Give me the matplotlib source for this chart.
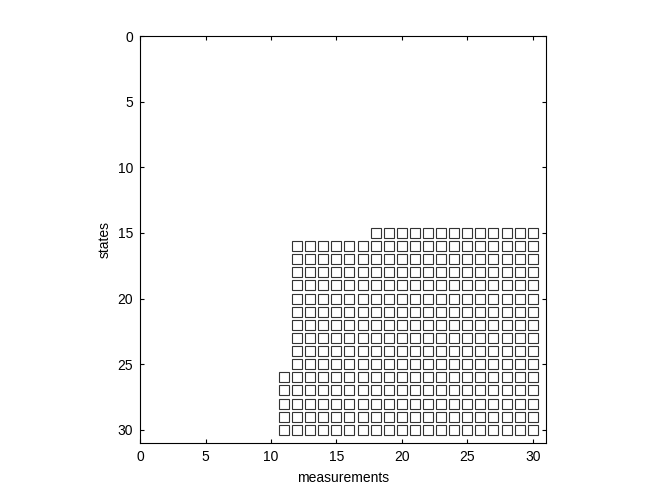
import numpy as np
import matplotlib
matplotlib.use('Agg')
import matplotlib.pyplot as plt

plt.rcParams['font.family'] = ['Liberation Sans', 'DejaVu Sans']

# each state row is filled from its first measurement up to the last one
states = list(range(15, 31))
first_meas = [18, 12, 12, 12, 12, 12, 12, 12, 12, 12, 12, 11, 11, 11, 11, 11]
last_meas = 30

xs = []
ys = []
for s, m0 in zip(states, first_meas):
    for m in range(m0, last_meas + 1):
        xs.append(m)
        ys.append(s)

fig = plt.figure(figsize=(6.64, 5), dpi=100)
ax = fig.add_axes([0.211, 0.114, 0.611, 0.814])
ax.plot(xs, ys, 's', markersize=7.3, markerfacecolor='none',
        markeredgecolor='#333333', markeredgewidth=0.8)

ax.set_xlim(0, 31)
ax.set_ylim(31, 0)
ax.set_xticks([0, 5, 10, 15, 20, 25, 30])
ax.set_yticks([0, 5, 10, 15, 20, 25, 30])
ax.tick_params(direction='in', top=True, right=True, labelsize=10, length=3, pad=5)
ax.set_xlabel('measurements', fontsize=10, labelpad=5)
ax.set_ylabel('states', fontsize=10, labelpad=4)

fig.savefig('out.png', dpi=100)
